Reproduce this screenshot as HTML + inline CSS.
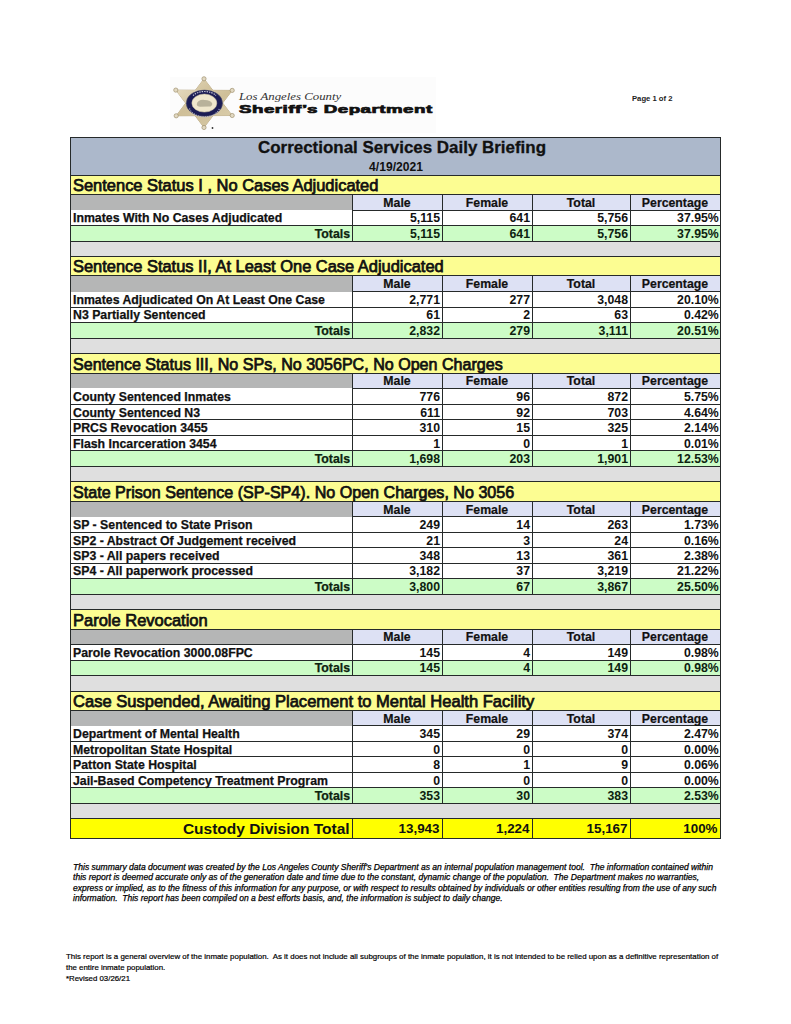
<!DOCTYPE html>
<html><head><meta charset="utf-8"><style>
html,body{margin:0;padding:0;background:#fff;}
body{width:791px;height:1024px;position:relative;overflow:hidden;font-family:"Liberation Sans",sans-serif;color:#111;}
div{position:absolute;}
.t{white-space:nowrap;line-height:0;height:0;}
</style></head><body>
<div style="left:70px;top:137.2px;width:650px;height:37.70000000000002px;background:#acb8cb"></div>
<div style="left:70px;top:136.7px;width:651px;height:1px;background:#262a2a"></div>
<div style="left:70px;top:175px;width:650px;height:19.19999999999999px;background:#fcfd92"></div>
<div style="left:70px;top:194.2px;width:282px;height:15.800000000000011px;background:#b5b6b6"></div>
<div style="left:352px;top:194.2px;width:368px;height:15.800000000000011px;background:#dde1f4"></div>
<div style="left:70px;top:210px;width:650px;height:15.5px;background:#ffffff"></div>
<div style="left:70px;top:225.5px;width:650px;height:15.5px;background:#ccfcc6"></div>
<div style="left:70px;top:241px;width:650px;height:15.300000000000011px;background:#dfdfdf"></div>
<div style="left:70px;top:174.5px;width:651px;height:1px;background:#262a2a"></div>
<div style="left:70px;top:193.7px;width:651px;height:1px;background:#262a2a"></div>
<div style="left:352px;top:209.5px;width:369px;height:1px;background:#262a2a"></div>
<div style="left:70px;top:225.0px;width:651px;height:1px;background:#262a2a"></div>
<div style="left:70px;top:240.5px;width:651px;height:1px;background:#262a2a"></div>
<div style="left:351.5px;top:194.2px;width:1px;height:46.80000000000001px;background:#262a2a"></div>
<div style="left:441.5px;top:194.2px;width:1px;height:46.80000000000001px;background:#262a2a"></div>
<div style="left:531.5px;top:194.2px;width:1px;height:46.80000000000001px;background:#262a2a"></div>
<div style="left:629.5px;top:194.2px;width:1px;height:46.80000000000001px;background:#262a2a"></div>
<div style="left:70px;top:256.3px;width:650px;height:19.5px;background:#fcfd92"></div>
<div style="left:70px;top:275.8px;width:282px;height:15.899999999999977px;background:#b5b6b6"></div>
<div style="left:352px;top:275.8px;width:368px;height:15.899999999999977px;background:#dde1f4"></div>
<div style="left:70px;top:291.7px;width:650px;height:15.400000000000034px;background:#ffffff"></div>
<div style="left:70px;top:307.1px;width:650px;height:15.399999999999977px;background:#ffffff"></div>
<div style="left:70px;top:322.5px;width:650px;height:15.5px;background:#ccfcc6"></div>
<div style="left:70px;top:338px;width:650px;height:15.199999999999989px;background:#dfdfdf"></div>
<div style="left:70px;top:255.8px;width:651px;height:1px;background:#262a2a"></div>
<div style="left:70px;top:275.3px;width:651px;height:1px;background:#262a2a"></div>
<div style="left:352px;top:291.2px;width:369px;height:1px;background:#262a2a"></div>
<div style="left:70px;top:306.6px;width:651px;height:1px;background:#262a2a"></div>
<div style="left:70px;top:322.0px;width:651px;height:1px;background:#262a2a"></div>
<div style="left:70px;top:337.5px;width:651px;height:1px;background:#262a2a"></div>
<div style="left:351.5px;top:275.8px;width:1px;height:62.19999999999999px;background:#262a2a"></div>
<div style="left:441.5px;top:275.8px;width:1px;height:62.19999999999999px;background:#262a2a"></div>
<div style="left:531.5px;top:275.8px;width:1px;height:62.19999999999999px;background:#262a2a"></div>
<div style="left:629.5px;top:275.8px;width:1px;height:62.19999999999999px;background:#262a2a"></div>
<div style="left:70px;top:353.2px;width:650px;height:19.80000000000001px;background:#fcfd92"></div>
<div style="left:70px;top:373px;width:282px;height:15.300000000000011px;background:#b5b6b6"></div>
<div style="left:352px;top:373px;width:368px;height:15.300000000000011px;background:#dde1f4"></div>
<div style="left:70px;top:388.3px;width:650px;height:15.899999999999977px;background:#ffffff"></div>
<div style="left:70px;top:404.2px;width:650px;height:15.600000000000023px;background:#ffffff"></div>
<div style="left:70px;top:419.8px;width:650px;height:15.5px;background:#ffffff"></div>
<div style="left:70px;top:435.3px;width:650px;height:15.5px;background:#ffffff"></div>
<div style="left:70px;top:450.8px;width:650px;height:15.399999999999977px;background:#ccfcc6"></div>
<div style="left:70px;top:466.2px;width:650px;height:15.5px;background:#dfdfdf"></div>
<div style="left:70px;top:352.7px;width:651px;height:1px;background:#262a2a"></div>
<div style="left:70px;top:372.5px;width:651px;height:1px;background:#262a2a"></div>
<div style="left:352px;top:387.8px;width:369px;height:1px;background:#262a2a"></div>
<div style="left:70px;top:403.7px;width:651px;height:1px;background:#262a2a"></div>
<div style="left:70px;top:419.3px;width:651px;height:1px;background:#262a2a"></div>
<div style="left:70px;top:434.8px;width:651px;height:1px;background:#262a2a"></div>
<div style="left:70px;top:450.3px;width:651px;height:1px;background:#262a2a"></div>
<div style="left:70px;top:465.7px;width:651px;height:1px;background:#262a2a"></div>
<div style="left:351.5px;top:373px;width:1px;height:93.19999999999999px;background:#262a2a"></div>
<div style="left:441.5px;top:373px;width:1px;height:93.19999999999999px;background:#262a2a"></div>
<div style="left:531.5px;top:373px;width:1px;height:93.19999999999999px;background:#262a2a"></div>
<div style="left:629.5px;top:373px;width:1px;height:93.19999999999999px;background:#262a2a"></div>
<div style="left:70px;top:481.7px;width:650px;height:19.5px;background:#fcfd92"></div>
<div style="left:70px;top:501.2px;width:282px;height:15.599999999999966px;background:#b5b6b6"></div>
<div style="left:352px;top:501.2px;width:368px;height:15.599999999999966px;background:#dde1f4"></div>
<div style="left:70px;top:516.8px;width:650px;height:15.400000000000091px;background:#ffffff"></div>
<div style="left:70px;top:532.2px;width:650px;height:15.399999999999977px;background:#ffffff"></div>
<div style="left:70px;top:547.6px;width:650px;height:15.5px;background:#ffffff"></div>
<div style="left:70px;top:563.1px;width:650px;height:15.399999999999977px;background:#ffffff"></div>
<div style="left:70px;top:578.5px;width:650px;height:15.700000000000045px;background:#ccfcc6"></div>
<div style="left:70px;top:594.2px;width:650px;height:15.299999999999955px;background:#dfdfdf"></div>
<div style="left:70px;top:481.2px;width:651px;height:1px;background:#262a2a"></div>
<div style="left:70px;top:500.7px;width:651px;height:1px;background:#262a2a"></div>
<div style="left:352px;top:516.3px;width:369px;height:1px;background:#262a2a"></div>
<div style="left:70px;top:531.7px;width:651px;height:1px;background:#262a2a"></div>
<div style="left:70px;top:547.1px;width:651px;height:1px;background:#262a2a"></div>
<div style="left:70px;top:562.6px;width:651px;height:1px;background:#262a2a"></div>
<div style="left:70px;top:578.0px;width:651px;height:1px;background:#262a2a"></div>
<div style="left:70px;top:593.7px;width:651px;height:1px;background:#262a2a"></div>
<div style="left:351.5px;top:501.2px;width:1px;height:93.00000000000006px;background:#262a2a"></div>
<div style="left:441.5px;top:501.2px;width:1px;height:93.00000000000006px;background:#262a2a"></div>
<div style="left:531.5px;top:501.2px;width:1px;height:93.00000000000006px;background:#262a2a"></div>
<div style="left:629.5px;top:501.2px;width:1px;height:93.00000000000006px;background:#262a2a"></div>
<div style="left:70px;top:609.5px;width:650px;height:19.600000000000023px;background:#fcfd92"></div>
<div style="left:70px;top:629.1px;width:282px;height:15.299999999999955px;background:#b5b6b6"></div>
<div style="left:352px;top:629.1px;width:368px;height:15.299999999999955px;background:#dde1f4"></div>
<div style="left:70px;top:644.4px;width:650px;height:15.600000000000023px;background:#ffffff"></div>
<div style="left:70px;top:660px;width:650px;height:15.399999999999977px;background:#ccfcc6"></div>
<div style="left:70px;top:675.4px;width:650px;height:15.800000000000068px;background:#dfdfdf"></div>
<div style="left:70px;top:609.0px;width:651px;height:1px;background:#262a2a"></div>
<div style="left:70px;top:628.6px;width:651px;height:1px;background:#262a2a"></div>
<div style="left:70px;top:643.9px;width:651px;height:1px;background:#262a2a"></div>
<div style="left:70px;top:659.5px;width:651px;height:1px;background:#262a2a"></div>
<div style="left:70px;top:674.9px;width:651px;height:1px;background:#262a2a"></div>
<div style="left:351.5px;top:629.1px;width:1px;height:46.299999999999955px;background:#262a2a"></div>
<div style="left:441.5px;top:629.1px;width:1px;height:46.299999999999955px;background:#262a2a"></div>
<div style="left:531.5px;top:629.1px;width:1px;height:46.299999999999955px;background:#262a2a"></div>
<div style="left:629.5px;top:629.1px;width:1px;height:46.299999999999955px;background:#262a2a"></div>
<div style="left:70px;top:691.2px;width:650px;height:19.09999999999991px;background:#fcfd92"></div>
<div style="left:70px;top:710.3px;width:282px;height:15.5px;background:#b5b6b6"></div>
<div style="left:352px;top:710.3px;width:368px;height:15.5px;background:#dde1f4"></div>
<div style="left:70px;top:725.8px;width:650px;height:15.5px;background:#ffffff"></div>
<div style="left:70px;top:741.3px;width:650px;height:15.400000000000091px;background:#ffffff"></div>
<div style="left:70px;top:756.7px;width:650px;height:15.399999999999977px;background:#ffffff"></div>
<div style="left:70px;top:772.1px;width:650px;height:15.5px;background:#ffffff"></div>
<div style="left:70px;top:787.6px;width:650px;height:15.600000000000023px;background:#ccfcc6"></div>
<div style="left:70px;top:803.2px;width:650px;height:15.699999999999932px;background:#dfdfdf"></div>
<div style="left:70px;top:690.7px;width:651px;height:1px;background:#262a2a"></div>
<div style="left:70px;top:709.8px;width:651px;height:1px;background:#262a2a"></div>
<div style="left:352px;top:725.3px;width:369px;height:1px;background:#262a2a"></div>
<div style="left:70px;top:740.8px;width:651px;height:1px;background:#262a2a"></div>
<div style="left:70px;top:756.2px;width:651px;height:1px;background:#262a2a"></div>
<div style="left:70px;top:771.6px;width:651px;height:1px;background:#262a2a"></div>
<div style="left:70px;top:787.1px;width:651px;height:1px;background:#262a2a"></div>
<div style="left:70px;top:802.7px;width:651px;height:1px;background:#262a2a"></div>
<div style="left:351.5px;top:710.3px;width:1px;height:92.90000000000009px;background:#262a2a"></div>
<div style="left:441.5px;top:710.3px;width:1px;height:92.90000000000009px;background:#262a2a"></div>
<div style="left:531.5px;top:710.3px;width:1px;height:92.90000000000009px;background:#262a2a"></div>
<div style="left:629.5px;top:710.3px;width:1px;height:92.90000000000009px;background:#262a2a"></div>
<div style="left:70px;top:818.9px;width:650px;height:19.100000000000023px;background:#ffff00"></div>
<div style="left:70px;top:818.4px;width:651px;height:1px;background:#262a2a"></div>
<div style="left:70px;top:837.5px;width:651px;height:1px;background:#262a2a"></div>
<div style="left:351.5px;top:818.9px;width:1px;height:19.100000000000023px;background:#262a2a"></div>
<div style="left:441.5px;top:818.9px;width:1px;height:19.100000000000023px;background:#262a2a"></div>
<div style="left:531.5px;top:818.9px;width:1px;height:19.100000000000023px;background:#262a2a"></div>
<div style="left:629.5px;top:818.9px;width:1px;height:19.100000000000023px;background:#262a2a"></div>
<div style="left:69.5px;top:137.2px;width:1px;height:700.8px;background:#262a2a"></div>
<div style="left:719.5px;top:137.2px;width:1px;height:700.8px;background:#262a2a"></div>
<div style="left:170px;top:77px;width:266px;height:56px;background:#fcfcfc"></div>
<svg style="position:absolute;left:0;top:0" width="791" height="140" viewBox="0 0 791 140">
<defs><linearGradient id="gd" x1="0" y1="0" x2="1" y2="1"><stop offset="0" stop-color="#e4d9bd"/><stop offset="0.5" stop-color="#cfbf98"/><stop offset="1" stop-color="#d9cca9"/></linearGradient></defs>
<g fill="url(#gd)" stroke="#ad9c77" stroke-width="0.7" stroke-linejoin="round">
<polygon points="204,78.8 176.2,115.8 232.2,115.5"/><polygon points="204,127.5 175.8,90.1 232.2,90.4"/>
</g>
<g fill="url(#gd)" stroke="none"><polygon points="204,78.8 176.2,115.8 232.2,115.5"/><polygon points="204,127.5 175.8,90.1 232.2,90.4"/></g>
<circle cx="204" cy="78.8" r="2.1" fill="#e2d9c2" stroke="#9f916f" stroke-width="0.7"/><circle cx="176.2" cy="115.8" r="2.1" fill="#e2d9c2" stroke="#9f916f" stroke-width="0.7"/><circle cx="232.2" cy="115.5" r="2.1" fill="#e2d9c2" stroke="#9f916f" stroke-width="0.7"/><circle cx="204" cy="127.5" r="2.1" fill="#e2d9c2" stroke="#9f916f" stroke-width="0.7"/><circle cx="175.8" cy="90.1" r="2.1" fill="#e2d9c2" stroke="#9f916f" stroke-width="0.7"/><circle cx="232.2" cy="90.4" r="2.1" fill="#e2d9c2" stroke="#9f916f" stroke-width="0.7"/>
<ellipse cx="204.4" cy="103.2" rx="18.2" ry="13.2" fill="#1c1d55" stroke="#55566a" stroke-width="0.5"/>
<path d="M193,95.5 A14.8,10.8 0 0 1 216,95.5" fill="none" stroke="#c4c5d6" stroke-width="1.2" stroke-dasharray="1.4 1"/>
<path d="M189.5,108.5 A15.5,11.2 0 0 0 219.5,108.5" fill="none" stroke="#b5b6cc" stroke-width="1.1" stroke-dasharray="1.2 1.1"/>
<ellipse cx="204.35" cy="103.1" rx="12.5" ry="9.0" fill="#efe7cd" stroke="#cfc4a3" stroke-width="0.5"/>
<path d="M196.8,104.3 C197.2,101.2 200,99.6 204,99.9 C208,99.7 211.3,100.9 212.2,103.4 C212.5,105.4 210.8,106.8 208.5,106.6 L200.2,106.7 C198.2,106.7 196.6,106 196.8,104.3 Z" fill="#aaa58e" opacity="0.8"/>
<circle cx="212.5" cy="128" r="0.9" fill="#333"/>
</svg>
<div class="t" style="left:102.0px;width:600px;text-align:center;top:148.44px;font-size:16.9px;font-weight:700;-webkit-text-stroke:0.3px #111;transform:scaleX(1.0026);transform-origin:50% 0">Correctional Services Daily Briefing</div>
<div class="t" style="left:95.5px;width:600px;text-align:center;top:166.64px;font-size:12px;font-weight:700;transform:scaleX(1.0077);transform-origin:50% 0">4/19/2021</div>
<div class="t" style="left:73.3px;top:184.82px;font-size:16.4px;font-weight:400;-webkit-text-stroke:0.75px #111;transform:scaleX(1.0035);transform-origin:0 0">Sentence Status I , No Cases Adjudicated</div>
<div class="t" style="left:97.0px;width:600px;text-align:center;top:202.74px;font-size:12.3px;font-weight:700;-webkit-text-stroke:0.2px #111;transform-origin:50% 0">Male</div>
<div class="t" style="left:187.0px;width:600px;text-align:center;top:202.74px;font-size:12.3px;font-weight:700;-webkit-text-stroke:0.2px #111;transform-origin:50% 0">Female</div>
<div class="t" style="left:281.0px;width:600px;text-align:center;top:202.74px;font-size:12.3px;font-weight:700;-webkit-text-stroke:0.2px #111;transform-origin:50% 0">Total</div>
<div class="t" style="left:375.0px;width:600px;text-align:center;top:202.74px;font-size:12.3px;font-weight:700;-webkit-text-stroke:0.2px #111;transform-origin:50% 0">Percentage</div>
<div class="t" style="left:73px;top:218.44px;font-size:12.3px;font-weight:700;-webkit-text-stroke:0.25px #111;transform-origin:0 0">Inmates With No Cases Adjudicated</div>
<div class="t" style="right:351.0px;top:218.44px;font-size:12.3px;font-weight:700;transform-origin:100% 0">5,115</div>
<div class="t" style="right:261.0px;top:218.44px;font-size:12.3px;font-weight:700;transform-origin:100% 0">641</div>
<div class="t" style="right:163.0px;top:218.44px;font-size:12.3px;font-weight:700;transform-origin:100% 0">5,756</div>
<div class="t" style="right:72.20000000000005px;top:218.44px;font-size:12.3px;font-weight:700;transform-origin:100% 0">37.95%</div>
<div class="t" style="right:441px;top:233.94px;font-size:12.3px;font-weight:700;color:#0d230f;-webkit-text-stroke:0.25px #0d230f;transform-origin:100% 0">Totals</div>
<div class="t" style="right:351.0px;top:233.94px;font-size:12.3px;font-weight:700;color:#0d230f;transform-origin:100% 0">5,115</div>
<div class="t" style="right:261.0px;top:233.94px;font-size:12.3px;font-weight:700;color:#0d230f;transform-origin:100% 0">641</div>
<div class="t" style="right:163.0px;top:233.94px;font-size:12.3px;font-weight:700;color:#0d230f;transform-origin:100% 0">5,756</div>
<div class="t" style="right:72.20000000000005px;top:233.94px;font-size:12.3px;font-weight:700;color:#0d230f;transform-origin:100% 0">37.95%</div>
<div class="t" style="left:73.3px;top:266.42px;font-size:16.4px;font-weight:400;-webkit-text-stroke:0.75px #111;transform:scaleX(1.0020);transform-origin:0 0">Sentence Status II, At Least One Case Adjudicated</div>
<div class="t" style="left:97.0px;width:600px;text-align:center;top:284.44px;font-size:12.3px;font-weight:700;-webkit-text-stroke:0.2px #111;transform-origin:50% 0">Male</div>
<div class="t" style="left:187.0px;width:600px;text-align:center;top:284.44px;font-size:12.3px;font-weight:700;-webkit-text-stroke:0.2px #111;transform-origin:50% 0">Female</div>
<div class="t" style="left:281.0px;width:600px;text-align:center;top:284.44px;font-size:12.3px;font-weight:700;-webkit-text-stroke:0.2px #111;transform-origin:50% 0">Total</div>
<div class="t" style="left:375.0px;width:600px;text-align:center;top:284.44px;font-size:12.3px;font-weight:700;-webkit-text-stroke:0.2px #111;transform-origin:50% 0">Percentage</div>
<div class="t" style="left:73px;top:300.04px;font-size:12.3px;font-weight:700;-webkit-text-stroke:0.25px #111;transform-origin:0 0">Inmates Adjudicated On At Least One Case</div>
<div class="t" style="right:351.0px;top:300.04px;font-size:12.3px;font-weight:700;transform-origin:100% 0">2,771</div>
<div class="t" style="right:261.0px;top:300.04px;font-size:12.3px;font-weight:700;transform-origin:100% 0">277</div>
<div class="t" style="right:163.0px;top:300.04px;font-size:12.3px;font-weight:700;transform-origin:100% 0">3,048</div>
<div class="t" style="right:72.20000000000005px;top:300.04px;font-size:12.3px;font-weight:700;transform-origin:100% 0">20.10%</div>
<div class="t" style="left:73px;top:315.44px;font-size:12.3px;font-weight:700;-webkit-text-stroke:0.25px #111;transform-origin:0 0">N3 Partially Sentenced</div>
<div class="t" style="right:351.0px;top:315.44px;font-size:12.3px;font-weight:700;transform-origin:100% 0">61</div>
<div class="t" style="right:261.0px;top:315.44px;font-size:12.3px;font-weight:700;transform-origin:100% 0">2</div>
<div class="t" style="right:163.0px;top:315.44px;font-size:12.3px;font-weight:700;transform-origin:100% 0">63</div>
<div class="t" style="right:72.20000000000005px;top:315.44px;font-size:12.3px;font-weight:700;transform-origin:100% 0">0.42%</div>
<div class="t" style="right:441px;top:330.94px;font-size:12.3px;font-weight:700;color:#0d230f;-webkit-text-stroke:0.25px #0d230f;transform-origin:100% 0">Totals</div>
<div class="t" style="right:351.0px;top:330.94px;font-size:12.3px;font-weight:700;color:#0d230f;transform-origin:100% 0">2,832</div>
<div class="t" style="right:261.0px;top:330.94px;font-size:12.3px;font-weight:700;color:#0d230f;transform-origin:100% 0">279</div>
<div class="t" style="right:163.0px;top:330.94px;font-size:12.3px;font-weight:700;color:#0d230f;transform-origin:100% 0">3,111</div>
<div class="t" style="right:72.20000000000005px;top:330.94px;font-size:12.3px;font-weight:700;color:#0d230f;transform-origin:100% 0">20.51%</div>
<div class="t" style="left:73.3px;top:363.62px;font-size:16.4px;font-weight:400;-webkit-text-stroke:0.75px #111;transform:scaleX(0.9805);transform-origin:0 0">Sentence Status III, No SPs, No 3056PC, No Open Charges</div>
<div class="t" style="left:97.0px;width:600px;text-align:center;top:381.04px;font-size:12.3px;font-weight:700;-webkit-text-stroke:0.2px #111;transform-origin:50% 0">Male</div>
<div class="t" style="left:187.0px;width:600px;text-align:center;top:381.04px;font-size:12.3px;font-weight:700;-webkit-text-stroke:0.2px #111;transform-origin:50% 0">Female</div>
<div class="t" style="left:281.0px;width:600px;text-align:center;top:381.04px;font-size:12.3px;font-weight:700;-webkit-text-stroke:0.2px #111;transform-origin:50% 0">Total</div>
<div class="t" style="left:375.0px;width:600px;text-align:center;top:381.04px;font-size:12.3px;font-weight:700;-webkit-text-stroke:0.2px #111;transform-origin:50% 0">Percentage</div>
<div class="t" style="left:73px;top:397.14px;font-size:12.3px;font-weight:700;-webkit-text-stroke:0.25px #111;transform-origin:0 0">County Sentenced Inmates</div>
<div class="t" style="right:351.0px;top:397.14px;font-size:12.3px;font-weight:700;transform-origin:100% 0">776</div>
<div class="t" style="right:261.0px;top:397.14px;font-size:12.3px;font-weight:700;transform-origin:100% 0">96</div>
<div class="t" style="right:163.0px;top:397.14px;font-size:12.3px;font-weight:700;transform-origin:100% 0">872</div>
<div class="t" style="right:72.20000000000005px;top:397.14px;font-size:12.3px;font-weight:700;transform-origin:100% 0">5.75%</div>
<div class="t" style="left:73px;top:412.74px;font-size:12.3px;font-weight:700;-webkit-text-stroke:0.25px #111;transform-origin:0 0">County Sentenced N3</div>
<div class="t" style="right:351.0px;top:412.74px;font-size:12.3px;font-weight:700;transform-origin:100% 0">611</div>
<div class="t" style="right:261.0px;top:412.74px;font-size:12.3px;font-weight:700;transform-origin:100% 0">92</div>
<div class="t" style="right:163.0px;top:412.74px;font-size:12.3px;font-weight:700;transform-origin:100% 0">703</div>
<div class="t" style="right:72.20000000000005px;top:412.74px;font-size:12.3px;font-weight:700;transform-origin:100% 0">4.64%</div>
<div class="t" style="left:73px;top:428.24px;font-size:12.3px;font-weight:700;-webkit-text-stroke:0.25px #111;transform-origin:0 0">PRCS Revocation 3455</div>
<div class="t" style="right:351.0px;top:428.24px;font-size:12.3px;font-weight:700;transform-origin:100% 0">310</div>
<div class="t" style="right:261.0px;top:428.24px;font-size:12.3px;font-weight:700;transform-origin:100% 0">15</div>
<div class="t" style="right:163.0px;top:428.24px;font-size:12.3px;font-weight:700;transform-origin:100% 0">325</div>
<div class="t" style="right:72.20000000000005px;top:428.24px;font-size:12.3px;font-weight:700;transform-origin:100% 0">2.14%</div>
<div class="t" style="left:73px;top:443.74px;font-size:12.3px;font-weight:700;-webkit-text-stroke:0.25px #111;transform-origin:0 0">Flash Incarceration 3454</div>
<div class="t" style="right:351.0px;top:443.74px;font-size:12.3px;font-weight:700;transform-origin:100% 0">1</div>
<div class="t" style="right:261.0px;top:443.74px;font-size:12.3px;font-weight:700;transform-origin:100% 0">0</div>
<div class="t" style="right:163.0px;top:443.74px;font-size:12.3px;font-weight:700;transform-origin:100% 0">1</div>
<div class="t" style="right:72.20000000000005px;top:443.74px;font-size:12.3px;font-weight:700;transform-origin:100% 0">0.01%</div>
<div class="t" style="right:441px;top:459.14px;font-size:12.3px;font-weight:700;color:#0d230f;-webkit-text-stroke:0.25px #0d230f;transform-origin:100% 0">Totals</div>
<div class="t" style="right:351.0px;top:459.14px;font-size:12.3px;font-weight:700;color:#0d230f;transform-origin:100% 0">1,698</div>
<div class="t" style="right:261.0px;top:459.14px;font-size:12.3px;font-weight:700;color:#0d230f;transform-origin:100% 0">203</div>
<div class="t" style="right:163.0px;top:459.14px;font-size:12.3px;font-weight:700;color:#0d230f;transform-origin:100% 0">1,901</div>
<div class="t" style="right:72.20000000000005px;top:459.14px;font-size:12.3px;font-weight:700;color:#0d230f;transform-origin:100% 0">12.53%</div>
<div class="t" style="left:73.3px;top:491.82px;font-size:16.4px;font-weight:400;-webkit-text-stroke:0.75px #111;transform:scaleX(0.9823);transform-origin:0 0">State Prison Sentence (SP-SP4). No Open Charges, No 3056</div>
<div class="t" style="left:97.0px;width:600px;text-align:center;top:509.54px;font-size:12.3px;font-weight:700;-webkit-text-stroke:0.2px #111;transform-origin:50% 0">Male</div>
<div class="t" style="left:187.0px;width:600px;text-align:center;top:509.54px;font-size:12.3px;font-weight:700;-webkit-text-stroke:0.2px #111;transform-origin:50% 0">Female</div>
<div class="t" style="left:281.0px;width:600px;text-align:center;top:509.54px;font-size:12.3px;font-weight:700;-webkit-text-stroke:0.2px #111;transform-origin:50% 0">Total</div>
<div class="t" style="left:375.0px;width:600px;text-align:center;top:509.54px;font-size:12.3px;font-weight:700;-webkit-text-stroke:0.2px #111;transform-origin:50% 0">Percentage</div>
<div class="t" style="left:73px;top:525.14px;font-size:12.3px;font-weight:700;-webkit-text-stroke:0.25px #111;transform-origin:0 0">SP - Sentenced to State Prison</div>
<div class="t" style="right:351.0px;top:525.14px;font-size:12.3px;font-weight:700;transform-origin:100% 0">249</div>
<div class="t" style="right:261.0px;top:525.14px;font-size:12.3px;font-weight:700;transform-origin:100% 0">14</div>
<div class="t" style="right:163.0px;top:525.14px;font-size:12.3px;font-weight:700;transform-origin:100% 0">263</div>
<div class="t" style="right:72.20000000000005px;top:525.14px;font-size:12.3px;font-weight:700;transform-origin:100% 0">1.73%</div>
<div class="t" style="left:73px;top:540.54px;font-size:12.3px;font-weight:700;-webkit-text-stroke:0.25px #111;transform-origin:0 0">SP2 - Abstract Of Judgement received</div>
<div class="t" style="right:351.0px;top:540.54px;font-size:12.3px;font-weight:700;transform-origin:100% 0">21</div>
<div class="t" style="right:261.0px;top:540.54px;font-size:12.3px;font-weight:700;transform-origin:100% 0">3</div>
<div class="t" style="right:163.0px;top:540.54px;font-size:12.3px;font-weight:700;transform-origin:100% 0">24</div>
<div class="t" style="right:72.20000000000005px;top:540.54px;font-size:12.3px;font-weight:700;transform-origin:100% 0">0.16%</div>
<div class="t" style="left:73px;top:556.04px;font-size:12.3px;font-weight:700;-webkit-text-stroke:0.25px #111;transform-origin:0 0">SP3 - All papers received</div>
<div class="t" style="right:351.0px;top:556.04px;font-size:12.3px;font-weight:700;transform-origin:100% 0">348</div>
<div class="t" style="right:261.0px;top:556.04px;font-size:12.3px;font-weight:700;transform-origin:100% 0">13</div>
<div class="t" style="right:163.0px;top:556.04px;font-size:12.3px;font-weight:700;transform-origin:100% 0">361</div>
<div class="t" style="right:72.20000000000005px;top:556.04px;font-size:12.3px;font-weight:700;transform-origin:100% 0">2.38%</div>
<div class="t" style="left:73px;top:571.44px;font-size:12.3px;font-weight:700;-webkit-text-stroke:0.25px #111;transform-origin:0 0">SP4 - All paperwork processed</div>
<div class="t" style="right:351.0px;top:571.44px;font-size:12.3px;font-weight:700;transform-origin:100% 0">3,182</div>
<div class="t" style="right:261.0px;top:571.44px;font-size:12.3px;font-weight:700;transform-origin:100% 0">37</div>
<div class="t" style="right:163.0px;top:571.44px;font-size:12.3px;font-weight:700;transform-origin:100% 0">3,219</div>
<div class="t" style="right:72.20000000000005px;top:571.44px;font-size:12.3px;font-weight:700;transform-origin:100% 0">21.22%</div>
<div class="t" style="right:441px;top:587.14px;font-size:12.3px;font-weight:700;color:#0d230f;-webkit-text-stroke:0.25px #0d230f;transform-origin:100% 0">Totals</div>
<div class="t" style="right:351.0px;top:587.14px;font-size:12.3px;font-weight:700;color:#0d230f;transform-origin:100% 0">3,800</div>
<div class="t" style="right:261.0px;top:587.14px;font-size:12.3px;font-weight:700;color:#0d230f;transform-origin:100% 0">67</div>
<div class="t" style="right:163.0px;top:587.14px;font-size:12.3px;font-weight:700;color:#0d230f;transform-origin:100% 0">3,867</div>
<div class="t" style="right:72.20000000000005px;top:587.14px;font-size:12.3px;font-weight:700;color:#0d230f;transform-origin:100% 0">25.50%</div>
<div class="t" style="left:73.3px;top:619.72px;font-size:16.4px;font-weight:400;-webkit-text-stroke:0.75px #111;transform:scaleX(1.0057);transform-origin:0 0">Parole Revocation</div>
<div class="t" style="left:97.0px;width:600px;text-align:center;top:637.14px;font-size:12.3px;font-weight:700;-webkit-text-stroke:0.2px #111;transform-origin:50% 0">Male</div>
<div class="t" style="left:187.0px;width:600px;text-align:center;top:637.14px;font-size:12.3px;font-weight:700;-webkit-text-stroke:0.2px #111;transform-origin:50% 0">Female</div>
<div class="t" style="left:281.0px;width:600px;text-align:center;top:637.14px;font-size:12.3px;font-weight:700;-webkit-text-stroke:0.2px #111;transform-origin:50% 0">Total</div>
<div class="t" style="left:375.0px;width:600px;text-align:center;top:637.14px;font-size:12.3px;font-weight:700;-webkit-text-stroke:0.2px #111;transform-origin:50% 0">Percentage</div>
<div class="t" style="left:73px;top:652.94px;font-size:12.3px;font-weight:700;-webkit-text-stroke:0.25px #111;transform-origin:0 0">Parole Revocation 3000.08FPC</div>
<div class="t" style="right:351.0px;top:652.94px;font-size:12.3px;font-weight:700;transform-origin:100% 0">145</div>
<div class="t" style="right:261.0px;top:652.94px;font-size:12.3px;font-weight:700;transform-origin:100% 0">4</div>
<div class="t" style="right:163.0px;top:652.94px;font-size:12.3px;font-weight:700;transform-origin:100% 0">149</div>
<div class="t" style="right:72.20000000000005px;top:652.94px;font-size:12.3px;font-weight:700;transform-origin:100% 0">0.98%</div>
<div class="t" style="right:441px;top:668.34px;font-size:12.3px;font-weight:700;color:#0d230f;-webkit-text-stroke:0.25px #0d230f;transform-origin:100% 0">Totals</div>
<div class="t" style="right:351.0px;top:668.34px;font-size:12.3px;font-weight:700;color:#0d230f;transform-origin:100% 0">145</div>
<div class="t" style="right:261.0px;top:668.34px;font-size:12.3px;font-weight:700;color:#0d230f;transform-origin:100% 0">4</div>
<div class="t" style="right:163.0px;top:668.34px;font-size:12.3px;font-weight:700;color:#0d230f;transform-origin:100% 0">149</div>
<div class="t" style="right:72.20000000000005px;top:668.34px;font-size:12.3px;font-weight:700;color:#0d230f;transform-origin:100% 0">0.98%</div>
<div class="t" style="left:73.3px;top:700.92px;font-size:16.4px;font-weight:400;-webkit-text-stroke:0.75px #111;transform:scaleX(1.0090);transform-origin:0 0">Case Suspended, Awaiting Placement to Mental Health Facility</div>
<div class="t" style="left:97.0px;width:600px;text-align:center;top:718.54px;font-size:12.3px;font-weight:700;-webkit-text-stroke:0.2px #111;transform-origin:50% 0">Male</div>
<div class="t" style="left:187.0px;width:600px;text-align:center;top:718.54px;font-size:12.3px;font-weight:700;-webkit-text-stroke:0.2px #111;transform-origin:50% 0">Female</div>
<div class="t" style="left:281.0px;width:600px;text-align:center;top:718.54px;font-size:12.3px;font-weight:700;-webkit-text-stroke:0.2px #111;transform-origin:50% 0">Total</div>
<div class="t" style="left:375.0px;width:600px;text-align:center;top:718.54px;font-size:12.3px;font-weight:700;-webkit-text-stroke:0.2px #111;transform-origin:50% 0">Percentage</div>
<div class="t" style="left:73px;top:734.24px;font-size:12.3px;font-weight:700;-webkit-text-stroke:0.25px #111;transform-origin:0 0">Department of Mental Health</div>
<div class="t" style="right:351.0px;top:734.24px;font-size:12.3px;font-weight:700;transform-origin:100% 0">345</div>
<div class="t" style="right:261.0px;top:734.24px;font-size:12.3px;font-weight:700;transform-origin:100% 0">29</div>
<div class="t" style="right:163.0px;top:734.24px;font-size:12.3px;font-weight:700;transform-origin:100% 0">374</div>
<div class="t" style="right:72.20000000000005px;top:734.24px;font-size:12.3px;font-weight:700;transform-origin:100% 0">2.47%</div>
<div class="t" style="left:73px;top:749.64px;font-size:12.3px;font-weight:700;-webkit-text-stroke:0.25px #111;transform-origin:0 0">Metropolitan State Hospital</div>
<div class="t" style="right:351.0px;top:749.64px;font-size:12.3px;font-weight:700;transform-origin:100% 0">0</div>
<div class="t" style="right:261.0px;top:749.64px;font-size:12.3px;font-weight:700;transform-origin:100% 0">0</div>
<div class="t" style="right:163.0px;top:749.64px;font-size:12.3px;font-weight:700;transform-origin:100% 0">0</div>
<div class="t" style="right:72.20000000000005px;top:749.64px;font-size:12.3px;font-weight:700;transform-origin:100% 0">0.00%</div>
<div class="t" style="left:73px;top:765.04px;font-size:12.3px;font-weight:700;-webkit-text-stroke:0.25px #111;transform-origin:0 0">Patton State Hospital</div>
<div class="t" style="right:351.0px;top:765.04px;font-size:12.3px;font-weight:700;transform-origin:100% 0">8</div>
<div class="t" style="right:261.0px;top:765.04px;font-size:12.3px;font-weight:700;transform-origin:100% 0">1</div>
<div class="t" style="right:163.0px;top:765.04px;font-size:12.3px;font-weight:700;transform-origin:100% 0">9</div>
<div class="t" style="right:72.20000000000005px;top:765.04px;font-size:12.3px;font-weight:700;transform-origin:100% 0">0.06%</div>
<div class="t" style="left:73px;top:780.54px;font-size:12.3px;font-weight:700;-webkit-text-stroke:0.25px #111;transform-origin:0 0">Jail-Based Competency Treatment Program</div>
<div class="t" style="right:351.0px;top:780.54px;font-size:12.3px;font-weight:700;transform-origin:100% 0">0</div>
<div class="t" style="right:261.0px;top:780.54px;font-size:12.3px;font-weight:700;transform-origin:100% 0">0</div>
<div class="t" style="right:163.0px;top:780.54px;font-size:12.3px;font-weight:700;transform-origin:100% 0">0</div>
<div class="t" style="right:72.20000000000005px;top:780.54px;font-size:12.3px;font-weight:700;transform-origin:100% 0">0.00%</div>
<div class="t" style="right:441px;top:796.14px;font-size:12.3px;font-weight:700;color:#0d230f;-webkit-text-stroke:0.25px #0d230f;transform-origin:100% 0">Totals</div>
<div class="t" style="right:351.0px;top:796.14px;font-size:12.3px;font-weight:700;color:#0d230f;transform-origin:100% 0">353</div>
<div class="t" style="right:261.0px;top:796.14px;font-size:12.3px;font-weight:700;color:#0d230f;transform-origin:100% 0">30</div>
<div class="t" style="right:163.0px;top:796.14px;font-size:12.3px;font-weight:700;color:#0d230f;transform-origin:100% 0">383</div>
<div class="t" style="right:72.20000000000005px;top:796.14px;font-size:12.3px;font-weight:700;color:#0d230f;transform-origin:100% 0">2.53%</div>
<div class="t" style="right:441.7px;top:829.26px;font-size:15.4px;font-weight:700;transform:scaleX(1.0066);transform-origin:100% 0">Custody Division Total</div>
<div class="t" style="right:351.5px;top:828.66px;font-size:13.4px;font-weight:700;transform-origin:100% 0">13,943</div>
<div class="t" style="right:261.5px;top:828.66px;font-size:13.4px;font-weight:700;transform-origin:100% 0">1,224</div>
<div class="t" style="right:163.5px;top:828.66px;font-size:13.4px;font-weight:700;transform-origin:100% 0">15,167</div>
<div class="t" style="right:73.5px;top:828.66px;font-size:13.4px;font-weight:700;transform-origin:100% 0">100%</div>
<div class="t" style="left:632px;top:98.5px;font-size:7.8px;font-weight:700;color:#222;transform:scaleX(0.9837);transform-origin:0 0">Page 1 of 2</div>
<div class="t" style="left:239.2px;top:97.13px;font-size:10.6px;font-family:'Liberation Serif',serif;font-style:italic;color:#333;transform:scaleX(1.2086);transform-origin:0 0">Los Angeles County</div>
<div class="t" style="left:239.2px;top:108.92px;font-size:11.2px;font-weight:700;-webkit-text-stroke:0.7px #111;letter-spacing:0.3px;transform:scaleX(1.6723);transform-origin:0 0">Sheriff’s Department</div>
<div class="t" style="left:72.6px;top:866.79px;font-size:8.4px;font-style:italic;color:#000;-webkit-text-stroke:0.25px #000;transform:scaleX(1.0214);transform-origin:0 0">This summary data document was created by the Los Angeles County Sheriff's Department as an internal population management tool.&nbsp; The information contained within</div>
<div class="t" style="left:72.6px;top:877.19px;font-size:8.4px;font-style:italic;color:#000;-webkit-text-stroke:0.25px #000;transform:scaleX(1.0221);transform-origin:0 0">this report is deemed accurate only as of the generation date and time due to the constant, dynamic change of the population.&nbsp; The Department makes no warranties,</div>
<div class="t" style="left:72.6px;top:887.69px;font-size:8.4px;font-style:italic;color:#000;-webkit-text-stroke:0.25px #000;transform:scaleX(1.0200);transform-origin:0 0">express or implied, as to the fitness of this information for any purpose, or with respect to results obtained by individuals or other entities resulting from the use of any such</div>
<div class="t" style="left:72.6px;top:898.09px;font-size:8.4px;font-style:italic;color:#000;-webkit-text-stroke:0.25px #000;transform:scaleX(1.0176);transform-origin:0 0">information.&nbsp; This report has been compiled on a best efforts basis, and, the information is subject to daily change.</div>
<div class="t" style="left:65.8px;top:956.93px;font-size:8.0px;color:#000;-webkit-text-stroke:0.2px #000;transform:scaleX(0.9869);transform-origin:0 0">This report is a general overview of the inmate population.&nbsp; As it does not include all subgroups of the inmate population, it is not intended to be relied upon as a definitive representation of</div>
<div class="t" style="left:65.8px;top:967.73px;font-size:8.0px;color:#000;-webkit-text-stroke:0.2px #000;transform:scaleX(0.9825);transform-origin:0 0">the entire inmate population.</div>
<div class="t" style="left:65.8px;top:979.13px;font-size:8.0px;color:#000;-webkit-text-stroke:0.2px #000;transform:scaleX(0.9787);transform-origin:0 0">*Revised 03/26/21</div>
</body></html>
